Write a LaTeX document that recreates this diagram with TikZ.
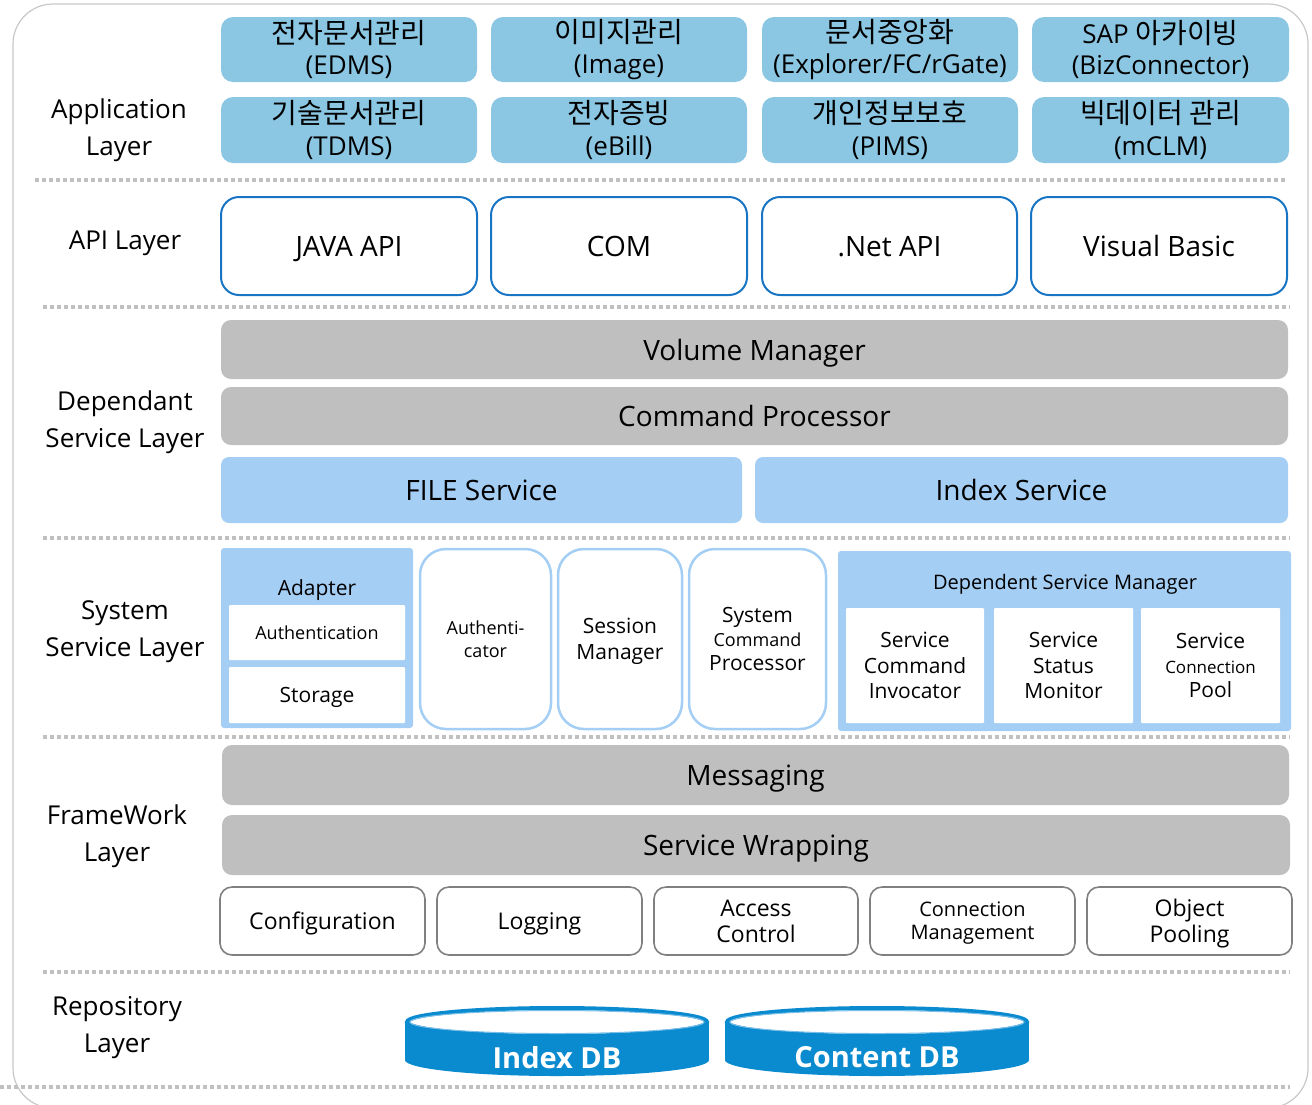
\documentclass[tikz,border=0pt]{standalone}
\usepackage{fontspec}
\setmainfont{Open Sans}
\newfontfamily\cjk{Noto Sans CJK KR}
\newcommand\F[2]{\fontsize{#1}{#2}\selectfont}
\definecolor{appblue}{RGB}{139,198,226}
\definecolor{apiblue}{RGB}{24,117,196}
\definecolor{bargray}{RGB}{191,191,191}
\definecolor{svcblue}{RGB}{164,206,244}
\definecolor{sepgray}{RGB}{192,192,192}
\definecolor{fwgray}{RGB}{128,128,128}
\definecolor{dbblue}{RGB}{11,139,207}
\definecolor{dbring}{RGB}{120,190,232}
\definecolor{outergray}{RGB}{200,200,200}
\begin{document}
\begin{tikzpicture}[x=1pt,y=-1pt,
  every node/.style={inner sep=0pt, outer sep=0pt, text=black, align=center, text depth=0pt},
  nw/.style={anchor=north west},
  app/.style={nw, fill=appblue, rounded corners=12pt, font=\F{26}{31.5}, text depth=},
  api/.style={nw, draw=apiblue, line width=2pt, fill=white, rounded corners=18pt, font=\F{28}{34}},
  gbar/.style={nw, fill=bargray, rounded corners=10pt, font=\F{28}{34}},
  bbar/.style={nw, fill=svcblue, rounded corners=8pt, font=\F{28}{34}},
  cont/.style={nw, fill=svcblue, rounded corners=3pt},
  inner/.style={nw, fill=white, rounded corners=1pt},
  sysbox/.style={nw, draw=svcblue, line width=2.5pt, fill=white, rounded corners=26pt},
  fwbox/.style={nw, draw=fwgray, line width=1.6pt, fill=white, rounded corners=12pt, font=\F{23}{26}},
  layer/.style={font=\F{26}{37}},
  sep/.style={draw=sepgray, line width=3.5pt, dash pattern=on 4pt off 3pt},
  dbtext/.style={text=white, font=\bfseries\F{29}{34}}
]
\useasboundingbox (0,0) rectangle (1312,1104);
% outer frame
\draw[outergray, line width=1.2pt, rounded corners=40pt] (13,4) rectangle (1308,1108);

% separators
\draw[sep] (35,180) -- (1285,180);
\draw[sep] (43,307) -- (1290,307);
\draw[sep] (43,538) -- (1290,538);
\draw[sep] (43,737) -- (1290,737);
\draw[sep] (43,972) -- (1290,972);
\draw[sep] (0,1087) -- (1290,1087);

% layer labels
\node[layer] (lapp) at (119,127) {Application\\Layer};
\node[layer] (lapi) at (125,240) {API Layer};
\node[layer] (ldep) at (125,419) {Dependant\\Service Layer};
\node[layer] (lsys) at (125,629) {System\\Service Layer};
\node[layer] (lfw) at (117,833) {FrameWork\\Layer};
\node[layer] (lrep) at (117,1024) {Repository\\Layer};

% application layer
\node[app, minimum width=256pt, minimum height=65pt] (a1) at (221,17) {{\cjk\F{28}{32}전자문서관리}\\(EDMS)};
\node[app, minimum width=256pt, minimum height=65pt] (a2) at (491,17) {{\cjk\F{28}{32}이미지관리}\\(Image)};
\node[app, minimum width=256pt, minimum height=65pt] (a3) at (762,17) {{\cjk\F{28}{32}문서중앙화}\\(Explorer/FC/rGate)};
\node[app, minimum width=257pt, minimum height=65pt] (a4) at (1032,17) {SAP {\cjk\F{28}{32}아카이빙}\\(BizConnector)};
\node[app, minimum width=256pt, minimum height=66pt] (a5) at (221,97) {{\cjk\F{28}{32}기술문서관리}\\(TDMS)};
\node[app, minimum width=256pt, minimum height=66pt] (a6) at (491,97) {{\cjk\F{28}{32}전자증빙}\\(eBill)};
\node[app, minimum width=256pt, minimum height=66pt] (a7) at (762,97) {{\cjk\F{28}{32}개인정보보호}\\(PIMS)};
\node[app, minimum width=257pt, minimum height=66pt] (a8) at (1032,97) {{\cjk\F{28}{32}빅데이터 관리}\\(mCLM)};

% API layer
\node[api, minimum width=256pt, minimum height=98pt] (p1) at (221,197) {JAVA API};
\node[api, minimum width=256pt, minimum height=98pt] (p2) at (491,197) {COM};
\node[api, minimum width=255pt, minimum height=98pt] (p3) at (762,197) {.Net API};
\node[api, minimum width=256pt, minimum height=98pt] (p4) at (1031,197) {Visual Basic};

% dependant service layer
\node[gbar, minimum width=1067pt, minimum height=59pt] (vm) at (221,320) {Volume Manager};
\node[gbar, minimum width=1067pt, minimum height=58pt] (cp) at (221,387) {Command Processor};
\node[bbar, minimum width=521pt, minimum height=66pt] (fs) at (221,457) {FILE Service};
\node[bbar, minimum width=533pt, minimum height=66pt] (is) at (755,457) {Index Service};

% system service layer
\node[cont, minimum width=192pt, minimum height=180pt] (ad) at (221,548) {};
\node[font=\F{21}{26}] (adt) at (317,588) {Adapter};
\node[inner, minimum width=176pt, minimum height=55pt, font=\F{18}{22}] (auth) at (229,605) {Authentication};
\node[inner, minimum width=176pt, minimum height=56pt, font=\F{21}{26}] (stor) at (229,667) {Storage};
\node[sysbox, minimum width=131pt, minimum height=180pt, font=\F{18}{22.5}] (atr) at (420,549) {Authenti-\\cator};
\node[sysbox, minimum width=124pt, minimum height=180pt, font=\F{21}{26}] (sm) at (558,549) {Session\\Manager};
\node[sysbox, minimum width=137pt, minimum height=180pt, font=\F{21}{24}] (scp) at (689,549) {System\\{\F{18}{24}Command}\\Processor};
\node[cont, minimum width=453pt, minimum height=180pt] (dsm) at (838,551) {};
\node[font=\F{20}{24}] (dsmt) at (1065,582) {Dependent Service Manager};
\node[inner, minimum width=138pt, minimum height=115pt, font=\F{21}{25.5}] (sci) at (846,608) {Service\\Command\\Invocator};
\node[inner, minimum width=139pt, minimum height=115pt, font=\F{21}{25.5}] (ssm) at (994,608) {Service\\Status\\Monitor};
\node[inner, minimum width=139pt, minimum height=115pt, font=\F{21}{24.5}] (scpl) at (1141,608) {Service\\{\F{17}{24.5}Connection}\\Pool};

% framework layer
\node[gbar, minimum width=1067pt, minimum height=60pt] (msg) at (222,745) {Messaging};
\node[gbar, minimum width=1068pt, minimum height=60pt] (sw) at (222,815) {Service Wrapping};
\node[fwbox, minimum width=205pt, minimum height=68pt] (cfg) at (220,887) {Configuration};
\node[fwbox, minimum width=205pt, minimum height=68pt] (log) at (437,887) {Logging};
\node[fwbox, minimum width=204pt, minimum height=68pt] (acc) at (654,887) {Access\\Control};
\node[fwbox, minimum width=205pt, minimum height=68pt, font=\F{20}{23}] (conn) at (870,887) {Connection\\Management};
\node[fwbox, minimum width=205pt, minimum height=68pt] (obj) at (1087,887) {Object\\Pooling};

% repository layer
\foreach \cx/\nm/\lab in {557/idx/Index DB, 877/cnt/Content DB}{
  \fill[dbblue] (\cx-152,1022) rectangle (\cx+152,1060);
  \fill[dbblue] (\cx,1060) ellipse[x radius=152pt, y radius=16pt];
  \draw[dbblue, line width=4pt, fill=white] (\cx,1022) ellipse[x radius=150pt, y radius=14pt];
  \draw[dbring, line width=1pt] (\cx,1022) ellipse[x radius=147pt, y radius=11.5pt];
  \node[dbtext] (\nm) at (\cx,1057) {\lab};
}
\end{tikzpicture}
\end{document}
